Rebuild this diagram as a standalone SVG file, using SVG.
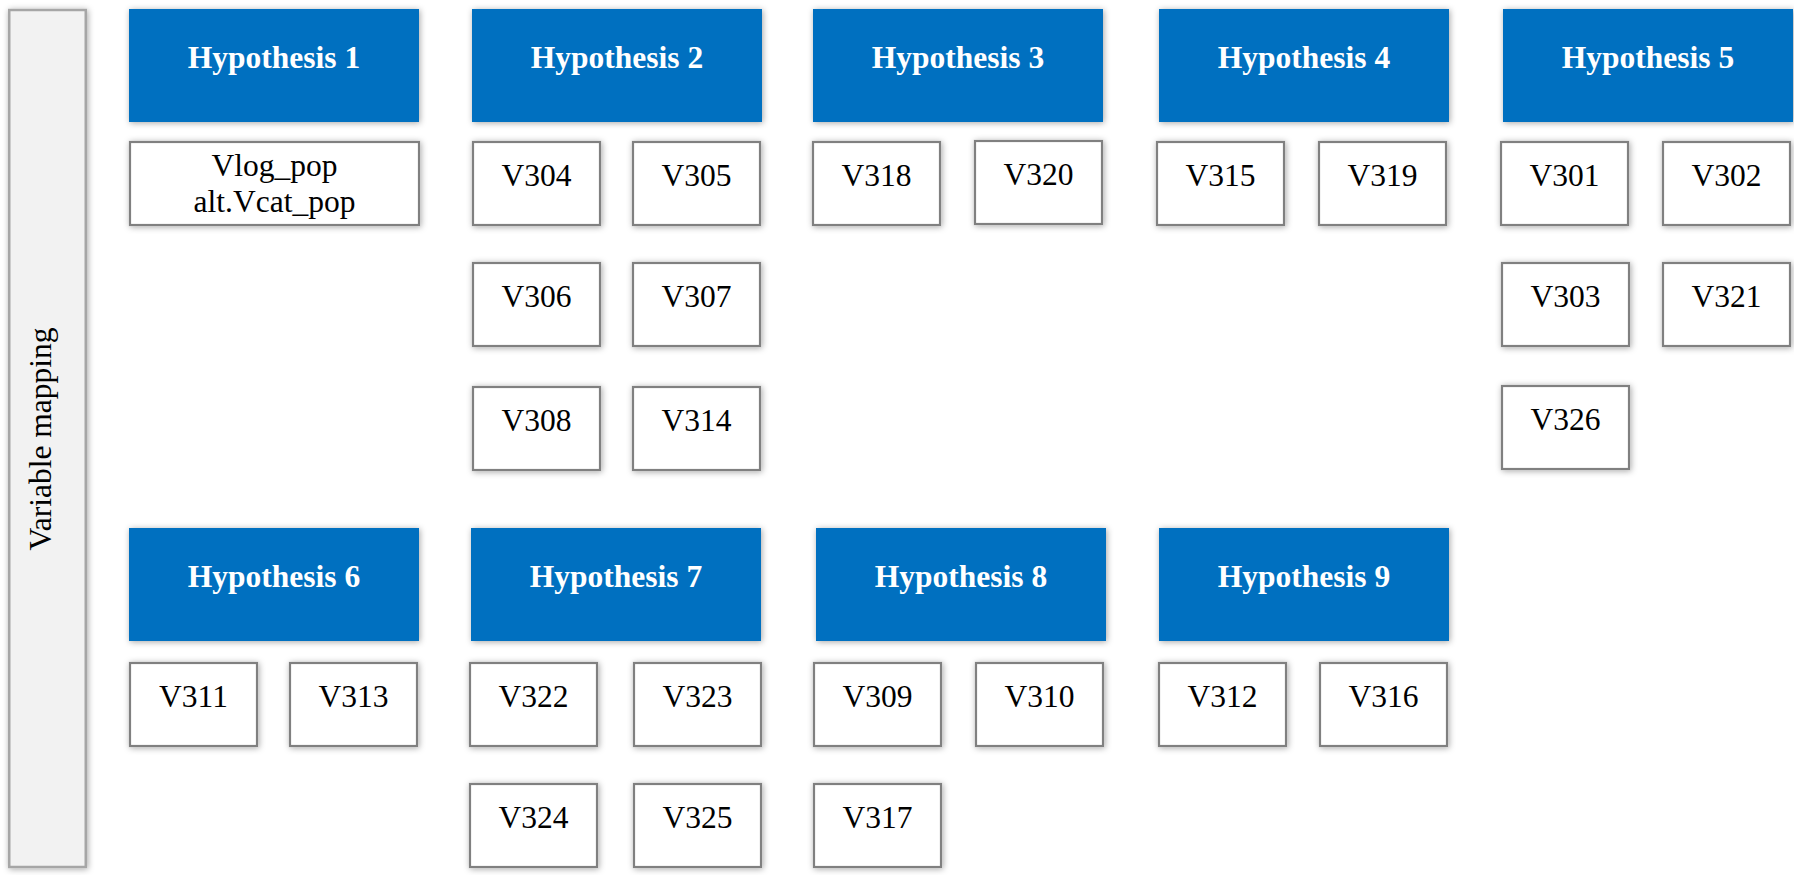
<svg xmlns="http://www.w3.org/2000/svg" width="1794" height="875" viewBox="0 0 1794 875">
<defs>
<filter id="sh" x="-20%" y="-20%" width="140%" height="140%">
<feDropShadow dx="1" dy="1" stdDeviation="3" flood-color="#000" flood-opacity="0.35"/>
</filter>
</defs>
<style>
.hd{fill:#0070C0;filter:url(#sh)}
.vb{fill:#fff;stroke:#808080;stroke-width:2.2;filter:url(#sh)}
.side{fill:#f2f2f2;stroke:#a6a6a6;stroke-width:2.5;filter:url(#sh)}
.ht{font-family:"Liberation Serif","Times New Roman",serif;font-weight:bold;font-size:31.5px;fill:#fff;text-anchor:middle}
.vt{font-family:"Liberation Serif","Times New Roman",serif;font-size:31.5px;fill:#000;text-anchor:middle}
</style>
<rect width="1794" height="875" fill="#fff"/>
<g id="sidebar">
<rect class="side" x="9.25" y="10" width="76.5" height="857"/>
<text class="vt" transform="translate(51,439) rotate(-90)" x="0" y="0">Variable mapping</text>
</g>
<g id="connectors"></g>
<g id="h1">
<rect class="hd" x="129" y="9" width="290" height="113"/>
<text class="ht" x="274" y="68">Hypothesis 1</text>
</g>
<g id="h1v">
<rect class="vb" x="130" y="142" width="289" height="83"/>
<text class="vt" x="274.5" y="176">Vlog_pop</text>
<text class="vt" x="274.5" y="212">alt.Vcat_pop</text>
</g>
<g id="h2">
<rect class="hd" x="472" y="9" width="290" height="113"/>
<text class="ht" x="617" y="68">Hypothesis 2</text>
</g>
<g id="v304"><rect class="vb" x="473" y="142" width="127" height="83"/><text class="vt" x="536.5" y="185.5">V304</text></g>
<g id="v305"><rect class="vb" x="633" y="142" width="127" height="83"/><text class="vt" x="696.5" y="185.5">V305</text></g>
<g id="v306"><rect class="vb" x="473" y="263" width="127" height="83"/><text class="vt" x="536.5" y="306.5">V306</text></g>
<g id="v307"><rect class="vb" x="633" y="263" width="127" height="83"/><text class="vt" x="696.5" y="306.5">V307</text></g>
<g id="v308"><rect class="vb" x="473" y="387" width="127" height="83"/><text class="vt" x="536.5" y="430.5">V308</text></g>
<g id="v314"><rect class="vb" x="633" y="387" width="127" height="83"/><text class="vt" x="696.5" y="430.5">V314</text></g>
<g id="h3">
<rect class="hd" x="813" y="9" width="290" height="113"/>
<text class="ht" x="958" y="68">Hypothesis 3</text>
</g>
<g id="v318"><rect class="vb" x="813" y="142" width="127" height="83"/><text class="vt" x="876.5" y="185.5">V318</text></g>
<g id="v320"><rect class="vb" x="975" y="141" width="127" height="83"/><text class="vt" x="1038.5" y="184.5">V320</text></g>
<g id="h4">
<rect class="hd" x="1159" y="9" width="290" height="113"/>
<text class="ht" x="1304" y="68">Hypothesis 4</text>
</g>
<g id="v315"><rect class="vb" x="1157" y="142" width="127" height="83"/><text class="vt" x="1220.5" y="185.5">V315</text></g>
<g id="v319"><rect class="vb" x="1319" y="142" width="127" height="83"/><text class="vt" x="1382.5" y="185.5">V319</text></g>
<g id="h5">
<rect class="hd" x="1503" y="9" width="290" height="113"/>
<text class="ht" x="1648" y="68">Hypothesis 5</text>
</g>
<g id="v301"><rect class="vb" x="1501" y="142" width="127" height="83"/><text class="vt" x="1564.5" y="185.5">V301</text></g>
<g id="v302"><rect class="vb" x="1663" y="142" width="127" height="83"/><text class="vt" x="1726.5" y="185.5">V302</text></g>
<g id="v303"><rect class="vb" x="1502" y="263" width="127" height="83"/><text class="vt" x="1565.5" y="306.5">V303</text></g>
<g id="v321"><rect class="vb" x="1663" y="263" width="127" height="83"/><text class="vt" x="1726.5" y="306.5">V321</text></g>
<g id="v326"><rect class="vb" x="1502" y="386" width="127" height="83"/><text class="vt" x="1565.5" y="429.5">V326</text></g>
<g id="h6">
<rect class="hd" x="129" y="528" width="290" height="113"/>
<text class="ht" x="274" y="587">Hypothesis 6</text>
</g>
<g id="v311"><rect class="vb" x="130" y="663" width="127" height="83"/><text class="vt" x="193.5" y="706.5">V311</text></g>
<g id="v313"><rect class="vb" x="290" y="663" width="127" height="83"/><text class="vt" x="353.5" y="706.5">V313</text></g>
<g id="h7">
<rect class="hd" x="471" y="528" width="290" height="113"/>
<text class="ht" x="616" y="587">Hypothesis 7</text>
</g>
<g id="v322"><rect class="vb" x="470" y="663" width="127" height="83"/><text class="vt" x="533.5" y="706.5">V322</text></g>
<g id="v323"><rect class="vb" x="634" y="663" width="127" height="83"/><text class="vt" x="697.5" y="706.5">V323</text></g>
<g id="v324"><rect class="vb" x="470" y="784" width="127" height="83"/><text class="vt" x="533.5" y="827.5">V324</text></g>
<g id="v325"><rect class="vb" x="634" y="784" width="127" height="83"/><text class="vt" x="697.5" y="827.5">V325</text></g>
<g id="h8">
<rect class="hd" x="816" y="528" width="290" height="113"/>
<text class="ht" x="961" y="587">Hypothesis 8</text>
</g>
<g id="v309"><rect class="vb" x="814" y="663" width="127" height="83"/><text class="vt" x="877.5" y="706.5">V309</text></g>
<g id="v310"><rect class="vb" x="976" y="663" width="127" height="83"/><text class="vt" x="1039.5" y="706.5">V310</text></g>
<g id="v317"><rect class="vb" x="814" y="784" width="127" height="83"/><text class="vt" x="877.5" y="827.5">V317</text></g>
<g id="h9">
<rect class="hd" x="1159" y="528" width="290" height="113"/>
<text class="ht" x="1304" y="587">Hypothesis 9</text>
</g>
<g id="v312"><rect class="vb" x="1159" y="663" width="127" height="83"/><text class="vt" x="1222.5" y="706.5">V312</text></g>
<g id="v316"><rect class="vb" x="1320" y="663" width="127" height="83"/><text class="vt" x="1383.5" y="706.5">V316</text></g>
</svg>
